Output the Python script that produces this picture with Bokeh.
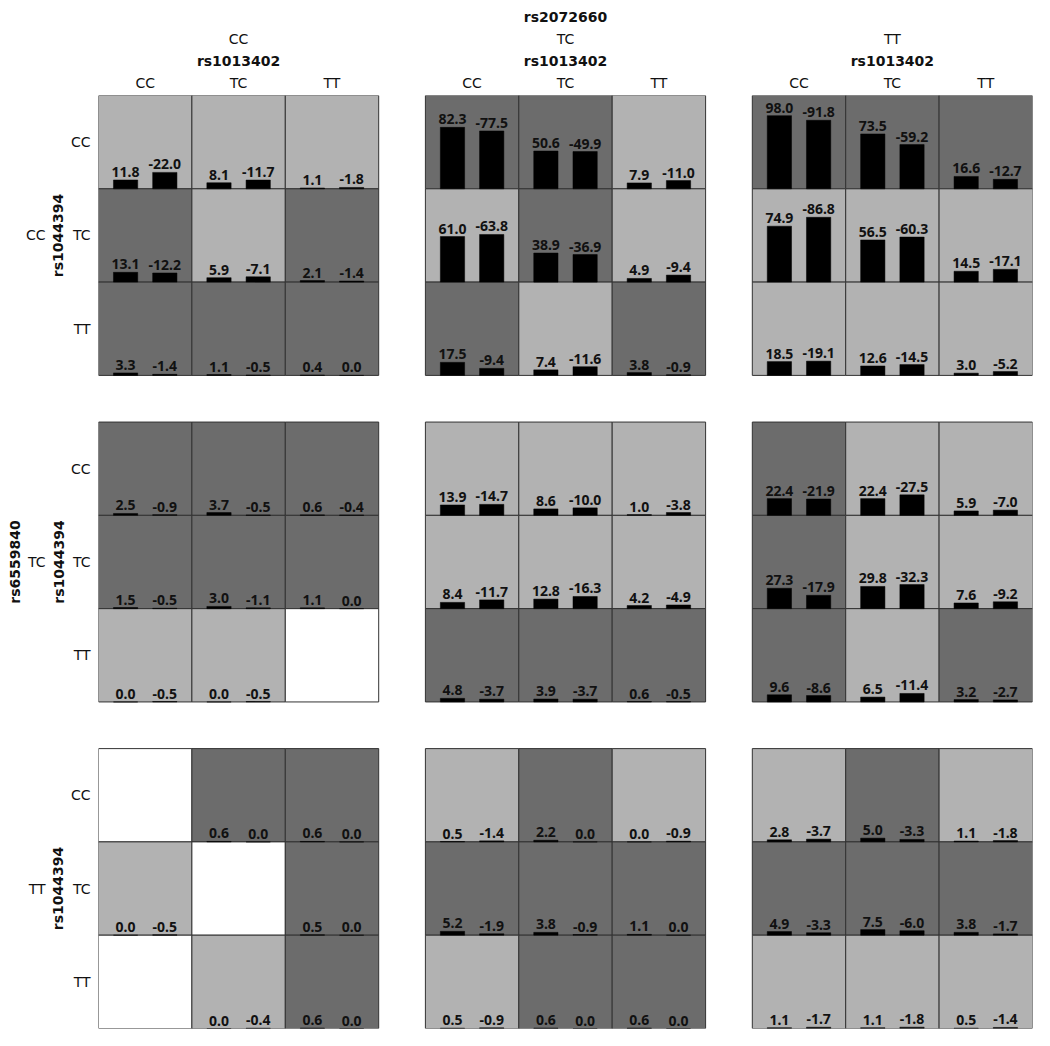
import math
from bokeh.plotting import figure
from bokeh.models import Range1d, LinearAxis, FixedTicker, ColumnDataSource
from bokeh.core.properties import value
from bokeh.embed import file_html
from bokeh.resources import INLINE

# ---------------- data ----------------
genotypes = ["CC", "TC", "TT"]
col_outer_snp = "rs2072660"
col_inner_snp = "rs1013402"
row_outer_snp = "rs6559840"
row_inner_snp = "rs1044394"

# panel naming: p<row outer genotype index><col outer genotype index>
# each list: 9 cells, row-major (rs1044394 CC,TC,TT) x (rs1013402 CC,TC,TT); None = empty cell
p00_pos = [11.8, 8.1, 1.1, 13.1, 5.9, 2.1, 3.3, 1.1, 0.4]
p00_neg = [-22.0, -11.7, -1.8, -12.2, -7.1, -1.4, -1.4, -0.5, 0.0]
p00_shade = ["L", "L", "L", "D", "L", "D", "D", "D", "D"]

p01_pos = [82.3, 50.6, 7.9, 61.0, 38.9, 4.9, 17.5, 7.4, 3.8]
p01_neg = [-77.5, -49.9, -11.0, -63.8, -36.9, -9.4, -9.4, -11.6, -0.9]
p01_shade = ["D", "D", "L", "L", "D", "L", "D", "L", "D"]

p02_pos = [98.0, 73.5, 16.6, 74.9, 56.5, 14.5, 18.5, 12.6, 3.0]
p02_neg = [-91.8, -59.2, -12.7, -86.8, -60.3, -17.1, -19.1, -14.5, -5.2]
p02_shade = ["D", "D", "D", "L", "L", "L", "L", "L", "L"]

p10_pos = [2.5, 3.7, 0.6, 1.5, 3.0, 1.1, 0.0, 0.0, None]
p10_neg = [-0.9, -0.5, -0.4, -0.5, -1.1, 0.0, -0.5, -0.5, None]
p10_shade = ["D", "D", "D", "D", "D", "D", "L", "L", "W"]

p11_pos = [13.9, 8.6, 1.0, 8.4, 12.8, 4.2, 4.8, 3.9, 0.6]
p11_neg = [-14.7, -10.0, -3.8, -11.7, -16.3, -4.9, -3.7, -3.7, -0.5]
p11_shade = ["L", "L", "L", "L", "L", "L", "D", "D", "D"]

p12_pos = [22.4, 22.4, 5.9, 27.3, 29.8, 7.6, 9.6, 6.5, 3.2]
p12_neg = [-21.9, -27.5, -7.0, -17.9, -32.3, -9.2, -8.6, -11.4, -2.7]
p12_shade = ["D", "L", "L", "D", "L", "L", "D", "L", "D"]

p20_pos = [None, 0.6, 0.6, 0.0, None, 0.5, None, 0.0, 0.6]
p20_neg = [None, 0.0, 0.0, -0.5, None, 0.0, None, -0.4, 0.0]
p20_shade = ["W", "D", "D", "L", "W", "D", "W", "L", "D"]

p21_pos = [0.5, 2.2, 0.0, 5.2, 3.8, 1.1, 0.5, 0.6, 0.6]
p21_neg = [-1.4, 0.0, -0.9, -1.9, -0.9, 0.0, -0.9, 0.0, 0.0]
p21_shade = ["L", "D", "L", "D", "D", "D", "L", "D", "D"]

p22_pos = [2.8, 5.0, 1.1, 4.9, 7.5, 3.8, 1.1, 1.1, 0.5]
p22_neg = [-3.7, -3.3, -1.8, -3.3, -6.0, -1.7, -1.7, -1.8, -1.4]
p22_shade = ["L", "D", "L", "D", "D", "D", "L", "L", "L"]

panels = [
    [(p00_pos, p00_neg, p00_shade), (p01_pos, p01_neg, p01_shade), (p02_pos, p02_neg, p02_shade)],
    [(p10_pos, p10_neg, p10_shade), (p11_pos, p11_neg, p11_shade), (p12_pos, p12_neg, p12_shade)],
    [(p20_pos, p20_neg, p20_shade), (p21_pos, p21_neg, p21_shade), (p22_pos, p22_neg, p22_shade)],
]

# ---------------- layout / style ----------------
GAP = 0.5
TOTAL = 3 * 3 + 2 * GAP
SCALE = 125.0          # value units per cell height
BAR_OFF = (0.29, 0.71)
BAR_W = 0.26
shade_colors = {"L": "#b2b2b2", "D": "#6c6c6c", "W": "#ffffff"}

AX_FONT = "DejaVu Sans"
VAL_FONT = "Noto Sans"

cell = dict(left=[], right=[], top=[], bottom=[], color=[])
bars = dict(x=[], top=[], bottom=[])
labs = dict(x=[], y=[], text=[])

for i in range(3):
    for j in range(3):
        pos, neg, sh = panels[i][j]
        for r in range(3):
            for k in range(3):
                idx = r * 3 + k
                x0 = j * (3 + GAP) + k
                ytop = TOTAL - (i * (3 + GAP) + r)
                y0 = ytop - 1
                cell["left"].append(x0)
                cell["right"].append(x0 + 1)
                cell["top"].append(ytop)
                cell["bottom"].append(y0)
                cell["color"].append(shade_colors[sh[idx]])
                if pos[idx] is None:
                    continue
                for off, v in zip(BAR_OFF, (pos[idx], neg[idx])):
                    h = abs(v) / SCALE
                    bars["x"].append(x0 + off)
                    bars["bottom"].append(y0)
                    bars["top"].append(y0 + h)
                    labs["x"].append(x0 + off)
                    labs["y"].append(y0 + h)
                    labs["text"].append(f"{v:.1f}")

p = figure(width=1034, height=1030,
           x_range=Range1d(0, TOTAL), y_range=Range1d(0, TOTAL),
           output_backend="svg", toolbar_location=None,
           x_axis_location="above", y_axis_location="left",
           min_border_left=98, min_border_right=2,
           min_border_top=95, min_border_bottom=2)
p.xgrid.visible = False
p.ygrid.visible = False
p.outline_line_color = None
p.background_fill_color = "white"

p.quad(left="left", right="right", top="top", bottom="bottom",
       fill_color="color", line_color="#333333", line_width=1,
       source=ColumnDataSource(cell))
p.vbar(x="x", top="top", bottom="bottom", width=BAR_W,
       fill_color="black", line_color="black", line_width=0.5,
       source=ColumnDataSource(bars))
p.text(x="x", y="y", text="text", source=ColumnDataSource(labs),
       text_align="center", text_baseline="alphabetic", y_offset=-8,
       text_font=value(VAL_FONT), text_font_style="bold",
       text_font_size="14px", text_color="#111111")


def style_axis(ax, ticks, labels, size="14px", bold=False, standoff=5, orient="horizontal"):
    ax.ticker = FixedTicker(ticks=ticks, minor_ticks=[])
    ax.major_label_overrides = {float(t): l for t, l in zip(ticks, labels)}
    ax.axis_line_color = None
    ax.major_tick_line_color = None
    ax.minor_tick_line_color = None
    ax.major_tick_out = 0
    ax.major_tick_in = 0
    ax.minor_tick_out = 0
    ax.major_label_standoff = standoff
    ax.major_label_text_font = AX_FONT
    ax.major_label_text_font_size = size
    ax.major_label_text_font_style = "bold" if bold else "normal"
    ax.major_label_text_color = "#111111"
    ax.major_label_orientation = orient


col_centers = [j * (3 + GAP) + k + 0.5 for j in range(3) for k in range(3)]
panel_x_centers = [j * (3 + GAP) + 1.5 for j in range(3)]
row_centers = [TOTAL - (i * (3 + GAP) + r + 0.5) for i in range(3) for r in range(3)]
panel_y_centers = [TOTAL - (i * (3 + GAP) + 1.5) for i in range(3)]

# top axes
style_axis(p.xaxis[0], col_centers, genotypes * 3, standoff=5)
ax2 = LinearAxis()
style_axis(ax2, panel_x_centers, [col_inner_snp] * 3, bold=True, standoff=3)
p.add_layout(ax2, "above")
ax3 = LinearAxis()
style_axis(ax3, panel_x_centers, genotypes, standoff=3)
p.add_layout(ax3, "above")
ax4 = LinearAxis()
style_axis(ax4, [panel_x_centers[1]], [col_outer_snp], bold=True, standoff=3)
p.add_layout(ax4, "above")

# left axes
style_axis(p.yaxis[0], row_centers, genotypes * 3, standoff=8)
ay2 = LinearAxis()
style_axis(ay2, panel_y_centers, [row_inner_snp] * 3, bold=True, standoff=1, orient="vertical")
p.add_layout(ay2, "left")
ay3 = LinearAxis()
style_axis(ay3, panel_y_centers, genotypes, standoff=2)
p.add_layout(ay3, "left")
ay4 = LinearAxis()
style_axis(ay4, [panel_y_centers[1]], [row_outer_snp], bold=True, standoff=0, orient="vertical")
p.add_layout(ay4, "left")

open("out.html", "w").write(file_html(p, INLINE))
